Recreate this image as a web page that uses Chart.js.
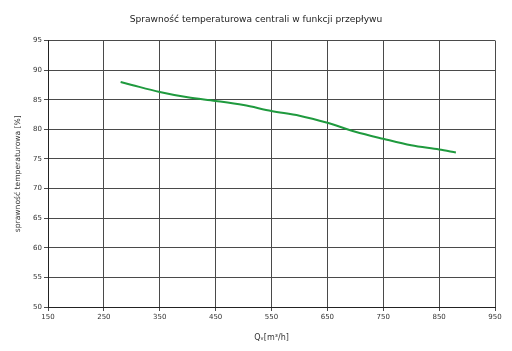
<!DOCTYPE html>
<html>
<head>
<meta charset="utf-8">
<script src="https://cdn.jsdelivr.net/npm/chart.js@4"></script>
<style>
  html, body { margin: 0; padding: 0; background: #fff; }
  #wrap { width: 512px; height: 351px; }
</style>
</head>
<body>
<div id="wrap"><canvas id="chart"></canvas></div>
<script>
// dane
const przeplyw = [280, 300, 350, 400, 450, 500, 550, 600, 650, 700, 750, 800, 850, 880];
const sprawnosc = [88.0, 87.5, 86.3, 85.4, 84.8, 84.1, 83.1, 82.3, 81.1, 79.6, 78.4, 77.3, 76.6, 76.1];
const xTicks = [150, 250, 350, 450, 550, 650, 750, 850, 950];
const yTicks = [50, 55, 60, 65, 70, 75, 80, 85, 90, 95];

const tytul = 'Sprawność temperaturowa centrali w funkcji przepływu';
const fontName = "'DejaVu Sans', Verdana, sans-serif";
const gridColor = '#4a4a4a';

// tytuł rysowany na środku całego obrazka
const tytulPlugin = {
    id: 'tytul',
    afterDraw(chart) {
        const c = chart.ctx;
        c.save();
        c.font = '9.1px ' + fontName;
        c.fillStyle = '#222';
        c.textAlign = 'center';
        c.textBaseline = 'middle';
        c.fillText(tytul, chart.width / 2, 20);
        c.restore();
    }
};

const ctx = document.getElementById('chart').getContext('2d');
new Chart(ctx, {
    type: 'scatter',
    data: {
        datasets: [{
            data: przeplyw.map((q, i) => ({ x: q, y: sprawnosc[i] })),
            showLine: true,
            borderColor: '#1f9a3e',
            borderWidth: 2,
            pointRadius: 0,
            cubicInterpolationMode: 'monotone'
        }]
    },
    options: {
        responsive: true,
        maintainAspectRatio: false,
        animation: false,
        layout: { padding: { left: 0, right: 17, top: 40.5, bottom: 0 } },
        plugins: {
            legend: { display: false },
            tooltip: { enabled: false }
        },
        scales: {
            x: {
                type: 'linear',
                min: 150,
                max: 950,
                afterBuildTicks: axis => { axis.ticks = xTicks.map(v => ({ value: v })); },
                afterFit: axis => { axis.height = 44; },
                grid: { color: gridColor, lineWidth: 1, tickLength: 4, tickColor: gridColor },
                border: { color: '#222', width: 1 },
                ticks: { color: '#333', font: { family: fontName, size: 7 }, padding: 2, maxRotation: 0 },
                title: {
                    display: true,
                    text: 'Qᵥ[m³/h]',
                    color: '#333',
                    font: { family: fontName, size: 8 },
                    padding: { top: 2, bottom: 8 }
                }
            },
            y: {
                min: 50,
                max: 95,
                afterBuildTicks: axis => { axis.ticks = yTicks.map(v => ({ value: v })); },
                afterFit: axis => { axis.width = 48; },
                grid: { color: gridColor, lineWidth: 1, tickLength: 4, tickColor: gridColor },
                border: { color: '#222', width: 1 },
                ticks: { color: '#333', font: { family: fontName, size: 7 }, padding: 2 },
                title: {
                    display: true,
                    text: 'sprawność temperaturowa [%]',
                    color: '#333',
                    font: { family: fontName, size: 7.6 },
                    padding: { top: 13, bottom: 0 }
                }
            }
        }
    },
    plugins: [tytulPlugin]
});
</script>
</body>
</html>
